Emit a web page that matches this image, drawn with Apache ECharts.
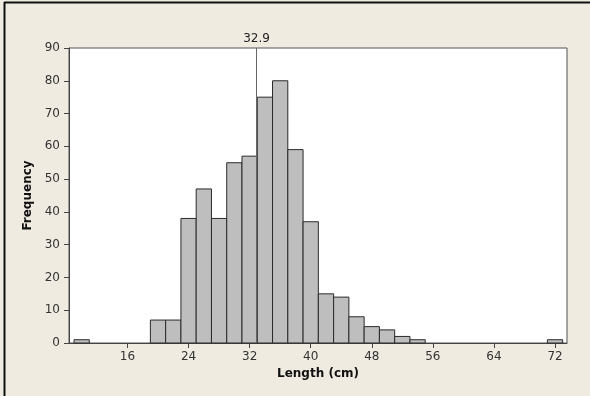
<!DOCTYPE html>
<html>
<head>
<meta charset="utf-8">
<script src="https://cdn.jsdelivr.net/npm/echarts@6/dist/echarts.min.js"></script>
<style>
html,body{margin:0;padding:0;background:#EFEBE1;}
#c{width:590px;height:396px;}
</style>
</head>
<body>
<div id="c"></div>
<script>
// Bin midpoints (bin width 2 cm) and frequencies
const binCenters = [10, 20, 22, 24, 26, 28, 30, 32, 34, 36, 38, 40, 42, 44, 46, 48, 50, 52, 54, 72];
const frequencies = [1, 7, 7, 38, 47, 38, 55, 57, 75, 80, 59, 37, 15, 14, 8, 5, 4, 2, 1, 1];
const binWidth = 2;
const xTicks = [16, 24, 32, 40, 48, 56, 64, 72];
const meanValue = 32.9;

const chart = echarts.init(document.getElementById('c'));
const font = 'DejaVu Sans, Verdana, sans-serif';
chart.setOption({
  backgroundColor: '#EFEBE1',
  animation: false,
  graphic: [
    { type: 'line', shape: { x1: 4, y1: 2.5, x2: 590, y2: 2.5 }, style: { stroke: '#111', lineWidth: 2 }, silent: true },
    { type: 'line', shape: { x1: 4.5, y1: 2, x2: 4.5, y2: 396 }, style: { stroke: '#111', lineWidth: 2 }, silent: true }
  ],
  grid: {
    left: 69, top: 48, right: 23, bottom: 53,
    show: true, backgroundColor: '#ffffff', borderColor: '#555', borderWidth: 1
  },
  xAxis: {
    type: 'value', min: 8.34, max: 73.57,
    name: 'Length (cm)', nameLocation: 'middle', nameGap: 24,
    nameTextStyle: { fontFamily: font, fontSize: 12, fontWeight: 'bold', color: '#111' },
    axisLine: { show: true, onZero: false, lineStyle: { color: '#444' } },
    axisTick: { show: true, length: 5, customValues: xTicks, lineStyle: { color: '#444' } },
    axisLabel: { customValues: xTicks, fontFamily: font, fontSize: 12, color: '#333', margin: 8 },
    splitLine: { show: false }
  },
  yAxis: {
    type: 'value', min: 0, max: 90, interval: 10,
    name: 'Frequency', nameLocation: 'middle', nameGap: 33,
    nameTextStyle: { fontFamily: font, fontSize: 12, fontWeight: 'bold', color: '#111' },
    axisLine: { show: true, lineStyle: { color: '#444' } },
    axisTick: { show: true, length: 5, lineStyle: { color: '#444' } },
    axisLabel: { fontFamily: font, fontSize: 12, color: '#333', margin: 9 },
    splitLine: { show: false }
  },
  series: [{
    type: 'custom',
    data: binCenters.map((c, i) => [c, frequencies[i]]),
    encode: { x: 0, y: 1 },
    renderItem: function (params, api) {
      const c = api.value(0), f = api.value(1);
      const p1 = api.coord([c - binWidth / 2, f]);
      const p2 = api.coord([c + binWidth / 2, 0]);
      return {
        type: 'rect',
        shape: { x: p1[0], y: p1[1], width: p2[0] - p1[0], height: p2[1] - p1[1] },
        style: { fill: '#BEBEBE', stroke: '#2a2a2a', lineWidth: 1 }
      };
    },
    markLine: {
      silent: true, symbol: 'none',
      lineStyle: { color: '#666', width: 1, type: 'solid' },
      label: { show: true, position: 'end', formatter: String(meanValue), fontFamily: font, fontSize: 12, color: '#222', distance: 3 },
      data: [{ xAxis: meanValue }]
    },
    z: 3
  }]
});
</script>
</body>
</html>
